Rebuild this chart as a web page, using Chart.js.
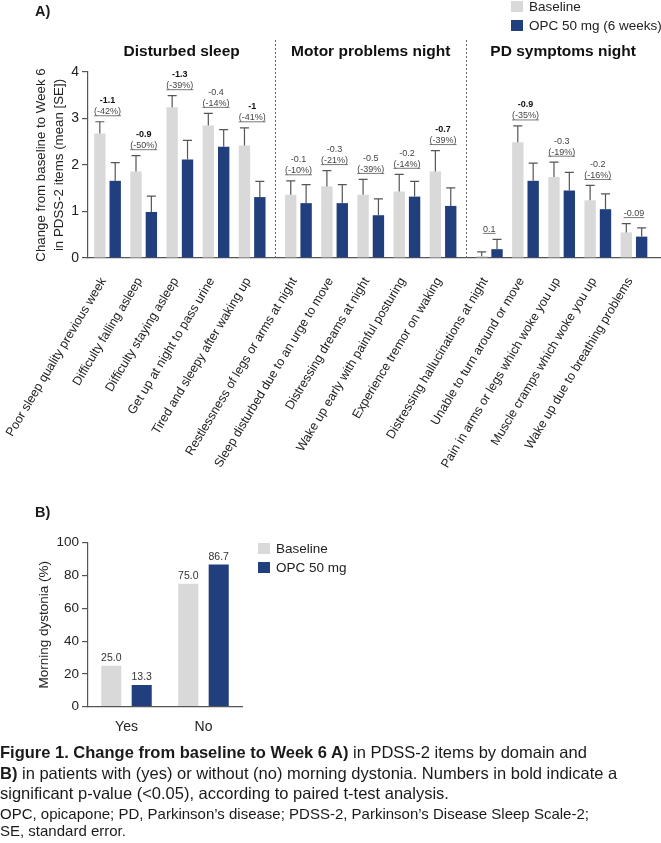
<!DOCTYPE html>
<html>
<head>
<meta charset="utf-8">
<script src="https://cdn.jsdelivr.net/npm/chart.js@4.4.1/dist/chart.umd.min.js"></script>
<style>
  body { margin: 0; background: #fff; font-family: "Liberation Sans", Arial, sans-serif; color: #1a1a1a; }
  #page { position: relative; width: 661px; height: 843px; overflow: hidden; }
  canvas { position: absolute; left: 0; }
  .tag { position: absolute; font-weight: bold; font-size: 14.5px; line-height: 16px; }
  .legend { position: absolute; font-size: 13.5px; color: #222; }
  .legend div { height: 19px; line-height: 19px; white-space: nowrap; }
  .legend .sw { display: inline-block; width: 12px; height: 11px; vertical-align: -1px; margin-right: 6px; }
  #caption { position: absolute; left: 0; top: 742px; font-size: 16.5px; line-height: 20.5px; white-space: nowrap; }
  #notes { position: absolute; left: 0; top: 805px; font-size: 15px; line-height: 17px; white-space: nowrap; }
</style>
</head>
<body>
<div id="page">
  <canvas id="chartA" width="661" height="490" style="top:0"></canvas>
  <canvas id="chartB" width="661" height="260" style="top:480px"></canvas>
  <div class="tag" style="left:35px; top:3px">A)</div>
  <div class="tag" style="left:35px; top:504px">B)</div>
  <div class="legend" id="legendA" style="left:511px; top:-3px"></div>
  <div class="legend" id="legendB" style="left:258px; top:539px"></div>
  <div id="caption"><b>Figure 1. Change from baseline to Week 6 A)</b> in PDSS-2 items by domain and<br><b>B)</b> in patients with (yes) or without (no) morning dystonia. Numbers in bold indicate a<br>significant p-value (&lt;0.05), according to paired t-test analysis.</div>
  <div id="notes">OPC, opicapone; PD, Parkinson’s disease; PDSS-2, Parkinson’s Disease Sleep Scale-2;<br>SE, standard error.</div>
</div>
<script>
// --- data, panel A (PDSS-2 items) ---
const categories = [
  "Poor sleep quality previous week", "Difficulty falling asleep", "Difficulty staying asleep",
  "Get up at night to pass urine", "Tired and sleepy after waking up",
  "Restlessness of legs or arms at night", "Sleep disturbed due to an urge to move",
  "Distressing dreams at night", "Wake up early with painful posturing", "Experience tremor on waking",
  "Distressing hallucinations at night", "Unable to turn around or move",
  "Pain in arms or legs which woke you up", "Muscle cramps which woke you up",
  "Wake up due to breathing problems"
];
const domains = ["Disturbed sleep", "Motor problems night", "PD symptoms night"];
const domainSize = 5;
const seriesNames = ["Baseline", "OPC 50 mg (6 weeks)"];
const baseline   = [2.68, 1.86, 3.24, 2.85, 2.42, 1.36, 1.54, 1.36, 1.43, 1.86, 0.04, 2.49, 1.74, 1.24, 0.55];
const baselineSE = [0.25, 0.34, 0.25, 0.26, 0.38, 0.30, 0.34, 0.33, 0.37, 0.45, 0.09, 0.35, 0.32, 0.32, 0.19];
const opc        = [1.66, 0.99, 2.12, 2.39, 1.31, 1.18, 1.18, 0.92, 1.32, 1.12, 0.19, 1.66, 1.45, 1.05, 0.46];
const opcSE      = [0.39, 0.34, 0.41, 0.37, 0.34, 0.40, 0.40, 0.35, 0.33, 0.39, 0.21, 0.38, 0.39, 0.33, 0.19];
const changeLabels = ["-1.1", "-0.9", "-1.3", "-0.4", "-1", "-0.1", "-0.3", "-0.5", "-0.2", "-0.7", "0.1", "-0.9", "-0.3", "-0.2", "-0.09"];
const pctLabels    = ["(-42%)", "(-50%)", "(-39%)", "(-14%)", "(-41%)", "(-10%)", "(-21%)", "(-39%)", "(-14%)", "(-39%)", "", "(-35%)", "(-19%)", "(-16%)", ""];
const significant  = [1, 1, 1, 0, 1, 0, 0, 0, 0, 1, 0, 1, 0, 0, 0];
const yTicksA = [0, 1, 2, 3, 4];

// --- data, panel B (morning dystonia) ---
const dystoniaCats = ["Yes", "No"];
const dystoniaSeries = ["Baseline", "OPC 50 mg"];
const dystoniaBaseline = [25.0, 75.0];
const dystoniaOpc = [13.3, 86.7];
const yTicksB = [0, 20, 40, 60, 80, 100];

const GREY = "#d9d9d9";
const NAVY = "#213e7d";
const AXIS = "#555";
const FONT = '"Liberation Sans", Arial, sans-serif';
const DOMAIN_GAP = 0.28;

Chart.defaults.font.family = FONT;
Chart.defaults.color = "#222";

// items sit one unit apart, domains get a little extra room
const pos = categories.map((c, i) => Math.floor(i / domainSize) * (domainSize + DOMAIN_GAP) + i % domainSize);

function makeLegend(id, names) {
  const colors = [GREY, NAVY];
  document.getElementById(id).innerHTML = names.map((n, i) =>
    `<div><span class="sw" style="background:${colors[i]}"></span>${n}</div>`).join("");
}
makeLegend("legendA", seriesNames);
makeLegend("legendB", dystoniaSeries);

const errorBars = {
  id: "errorBars",
  afterDatasetsDraw(chart) {
    const ctx = chart.ctx, y = chart.scales.y;
    const se = [baselineSE, opcSE];
    ctx.save();
    ctx.strokeStyle = AXIS;
    ctx.lineWidth = 1.2;
    chart.data.datasets.forEach((ds, d) => {
      chart.getDatasetMeta(d).data.forEach((bar, i) => {
        const top = y.getPixelForValue(ds.data[i].y + se[d][i]);
        ctx.beginPath();
        ctx.moveTo(bar.x, bar.y);
        ctx.lineTo(bar.x, top);
        ctx.moveTo(bar.x - 4.5, top);
        ctx.lineTo(bar.x + 4.5, top);
        ctx.stroke();
      });
    });
    ctx.restore();
  }
};

const changeNotes = {
  id: "changeNotes",
  afterDatasetsDraw(chart) {
    const ctx = chart.ctx, y = chart.scales.y;
    const m0 = chart.getDatasetMeta(0).data, m1 = chart.getDatasetMeta(1).data;
    ctx.save();
    ctx.textAlign = "center";
    ctx.textBaseline = "alphabetic";
    categories.forEach((c, i) => {
      const cx = (m0[i].x + m1[i].x) / 2;
      const top = Math.min(y.getPixelForValue(baseline[i] + baselineSE[i]), y.getPixelForValue(opc[i] + opcSE[i]));
      const lines = pctLabels[i] ? [changeLabels[i], pctLabels[i]] : [changeLabels[i]];
      lines.forEach((t, k) => {
        const by = top - 7.5 - (lines.length - 1 - k) * 11;
        const bold = k === 0 && significant[i];
        ctx.font = (bold ? "bold " : "") + "9px " + FONT;
        ctx.fillStyle = bold ? "#111" : "#444";
        ctx.fillText(t, cx, by);
        if (k === lines.length - 1) {
          const w = ctx.measureText(t).width;
          ctx.strokeStyle = "#555";
          ctx.lineWidth = 0.8;
          ctx.beginPath();
          ctx.moveTo(cx - w / 2, by + 1.5);
          ctx.lineTo(cx + w / 2, by + 1.5);
          ctx.stroke();
        }
      });
    });
    ctx.restore();
  }
};

const domainMarks = {
  id: "domainMarks",
  afterDraw(chart) {
    const ctx = chart.ctx, x = chart.scales.x, area = chart.chartArea;
    const edges = [area.left];
    for (let d = 1; d < domains.length; d++) {
      edges.push(x.getPixelForValue((pos[d * domainSize - 1] + pos[d * domainSize]) / 2));
    }
    edges.push(area.right);
    ctx.save();
    ctx.strokeStyle = "#666";
    ctx.lineWidth = 1;
    ctx.setLineDash([2, 2]);
    edges.slice(1, -1).forEach(px => {
      ctx.beginPath();
      ctx.moveTo(Math.round(px) + 0.5, 40);
      ctx.lineTo(Math.round(px) + 0.5, area.bottom);
      ctx.stroke();
    });
    ctx.setLineDash([]);
    ctx.fillStyle = "#111";
    ctx.font = "bold 15.5px " + FONT;
    ctx.textAlign = "center";
    ctx.textBaseline = "middle";
    domains.forEach((t, d) => ctx.fillText(t, (edges[d] + edges[d + 1]) / 2, 52));
    ctx.restore();
  }
};

new Chart(document.getElementById("chartA"), {
  type: "bar",
  data: {
    datasets: [
      { label: seriesNames[0], data: baseline.map((v, i) => ({ x: pos[i], y: v })), backgroundColor: GREY },
      { label: seriesNames[1], data: opc.map((v, i) => ({ x: pos[i], y: v })), backgroundColor: NAVY }
    ]
  },
  options: {
    responsive: false,
    animation: false,
    categoryPercentage: 0.85,
    barPercentage: 0.74,
    layout: { autoPadding: false, padding: { top: 72, right: 1, left: 0, bottom: 0 } },
    plugins: { legend: { display: false }, tooltip: { enabled: false } },
    scales: {
      x: {
        type: "linear",
        offset: false,
        min: -0.54,
        max: pos[pos.length - 1] + 0.72,
        grid: { display: false },
        border: { color: AXIS, width: 1.2 },
        afterBuildTicks: axis => { axis.ticks = pos.map(v => ({ value: v })); },
        afterFit: axis => { axis.height = 232; },
        ticks: {
          autoSkip: false,
          minRotation: 59,
          maxRotation: 59,
          padding: 9,
          labelOffset: -4,
          font: { size: 12.5 },
          color: "#222",
          callback: (v, i) => categories[i]
        }
      },
      y: {
        min: 0,
        max: 4,
        afterBuildTicks: axis => { axis.ticks = yTicksA.map(v => ({ value: v })); },
        afterFit: axis => { axis.width = 88; },
        grid: { drawOnChartArea: false, drawTicks: true, tickLength: 6, color: AXIS, lineWidth: 1.2 },
        border: { color: AXIS, width: 1.2 },
        ticks: { font: { size: 14 }, color: "#222", padding: 3 },
        title: {
          display: true,
          text: ["Change from baseline to Week 6", "in PDSS-2 items (mean [SE])"],
          font: { size: 13.3, lineHeight: 1.3 },
          color: "#222",
          padding: { top: 33, bottom: 0 }
        }
      }
    }
  },
  plugins: [errorBars, changeNotes, domainMarks]
});

const valueLabels = {
  id: "valueLabels",
  afterDatasetsDraw(chart) {
    const ctx = chart.ctx;
    ctx.save();
    ctx.font = "10.5px " + FONT;
    ctx.fillStyle = "#333";
    ctx.textAlign = "center";
    ctx.textBaseline = "alphabetic";
    chart.data.datasets.forEach((ds, d) => {
      chart.getDatasetMeta(d).data.forEach((bar, i) => {
        ctx.fillText(ds.data[i].toFixed(1), bar.x, bar.y - 5);
      });
    });
    ctx.restore();
  }
};

new Chart(document.getElementById("chartB"), {
  type: "bar",
  data: {
    labels: dystoniaCats,
    datasets: [
      { label: dystoniaSeries[0], data: dystoniaBaseline, backgroundColor: GREY },
      { label: dystoniaSeries[1], data: dystoniaOpc, backgroundColor: NAVY }
    ]
  },
  options: {
    responsive: false,
    animation: false,
    categoryPercentage: 0.79,
    barPercentage: 0.66,
    layout: { autoPadding: false, padding: { top: 62.7, right: 419, left: 0, bottom: 0 } },
    plugins: { legend: { display: false }, tooltip: { enabled: false } },
    scales: {
      x: {
        grid: { display: false },
        border: { color: AXIS, width: 1.2 },
        afterFit: axis => { axis.height = 33.3; },
        ticks: { font: { size: 14 }, color: "#222", padding: 4 }
      },
      y: {
        min: 0,
        max: 100,
        afterBuildTicks: axis => { axis.ticks = yTicksB.map(v => ({ value: v })); },
        afterFit: axis => { axis.width = 88; },
        grid: { drawOnChartArea: false, drawTicks: true, tickLength: 6, color: AXIS, lineWidth: 1.2 },
        border: { color: AXIS, width: 1.2 },
        ticks: { font: { size: 13.5 }, color: "#222", padding: 3 },
        title: {
          display: true,
          text: "Morning dystonia (%)",
          font: { size: 13.5 },
          color: "#222",
          padding: { top: 36, bottom: 0 }
        }
      }
    }
  },
  plugins: [valueLabels]
});
</script>
</body>
</html>
